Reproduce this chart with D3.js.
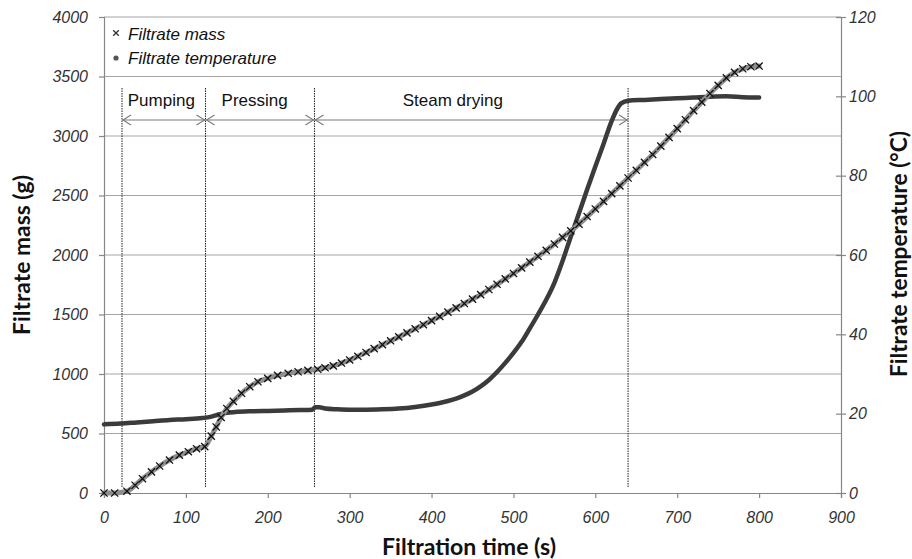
<!DOCTYPE html>
<html><head><meta charset="utf-8">
<script src="https://cdn.jsdelivr.net/npm/d3@7"></script>
<style>body{margin:0;background:#fff}svg{display:block}</style>
</head><body>
<svg id="chart" width="912" height="559"></svg>
<script>
// ---- data ----
const massTime = [0,13,28,38,47,58,68,80,92,103,113,123,131,137,143,150,158,168,178,188,200,212,225,237,249,261,270,
  280,290,300,310,320,330,340,350,360,370,380,390,400,410,420,430,440,450,460,470,480,490,500,510,520,530,540,550,
  560,570,580,590,600,610,620,630,640,650,660,670,680,690,700,710,720,730,740,750,760,770,780,790,800];
const massValues = [0,0,15,65,120,178,227,277,318,347,372,390,478,555,635,710,770,838,893,935,963,988,1006,1019,1030,1040,1052,
  1068,1092,1118,1149,1181,1213,1246,1279,1312,1346,1380,1414,1449,1484,1520,1556,1592,1629,1667,1710,1754,1799,1845,1892,
  1940,1989,2039,2092,2148,2203,2259,2323,2387,2451,2516,2581,2647,2712,2778,2845,2915,2988,3062,3137,3213,3285,3357,3425,
  3488,3535,3565,3582,3588];
const tempTime = [0,20,40,60,80,100,120,130,140,150,160,180,200,220,240,254,258,263,270,285,300,320,340,360,380,400,410,420,
  430,440,450,460,470,480,490,500,510,520,530,540,550,560,570,580,590,600,610,620,626,632,640,660,680,700,720,740,760,780,800];
const tempValues = [17.3,17.5,17.8,18.1,18.4,18.6,18.9,19.2,19.8,20.2,20.4,20.6,20.7,20.8,20.9,21.0,21.6,21.6,21.3,21.1,21.0,
  21.0,21.1,21.3,21.7,22.3,22.7,23.2,23.8,24.6,25.6,26.9,28.5,30.5,32.8,35.3,38.1,41.5,45.0,48.7,53.0,58.5,64.6,70.5,76.5,
  82.3,88.0,93.8,96.6,98.3,98.9,99.1,99.3,99.5,99.7,99.9,100.0,99.8,99.7];
const xTicks = [0,100,200,300,400,500,600,700,800,900];
const massTicks = [0,500,1000,1500,2000,2500,3000,3500,4000];
const tempTicks = [0,20,40,60,80,100,120];
const phaseBounds = [22,124,257,640];
const phaseLabels = ["Pumping","Pressing","Steam drying"];
const legendLabels = ["Filtrate mass","Filtrate temperature"];
const axisTitles = ["Filtration time (s)","Filtrate mass (g)","Filtrate temperature (°C)"];

// ---- layout ----
const L = 104, R = 841, T = 17, B = 493;
const phaseLabelAt = [70,184,426];
const svg = d3.select("#chart");
const x = d3.scaleLinear().domain([0,900]).range([L,R]);
const yM = d3.scaleLinear().domain([0,4000]).range([B,T]);
const yT = d3.scaleLinear().domain([0,120]).range([B,T]);
const tickFont = "'Liberation Sans', Arial, sans-serif";
const axisCol = "#868686";

// gridlines
svg.append("g").selectAll("line").data(massTicks.filter(d=>d>0)).join("line")
  .attr("x1",L).attr("x2",R).attr("y1",d=>yM(d)).attr("y2",d=>yM(d))
  .attr("stroke","#a6a6a6").attr("stroke-width",1.2);

function styleAxis(g){
  g.select(".domain").attr("stroke",axisCol).attr("stroke-width",1.2);
  g.selectAll(".tick line").attr("stroke",axisCol).attr("stroke-width",1.2);
  g.selectAll(".tick text").attr("fill","#333").style("font-family",tickFont)
    .style("font-size","16px").style("font-style","italic");
}
svg.append("g").attr("transform",`translate(0,${B})`)
  .call(d3.axisBottom(x).tickValues(xTicks).tickSize(5).tickPadding(14).tickFormat(d3.format("d")))
  .call(styleAxis);
svg.append("g").attr("transform",`translate(${L},0)`)
  .call(d3.axisLeft(yM).tickValues(massTicks).tickSize(5).tickPadding(11).tickFormat(d3.format("d")))
  .call(styleAxis);
const gr = svg.append("g").attr("transform",`translate(${R},0)`)
  .call(d3.axisRight(yT).tickValues(tempTicks).tickSize(5).tickPadding(3).tickFormat(d3.format("d")))
  .call(styleAxis);
gr.selectAll(".tick line").attr("x1",-5);

// phase dotted lines
svg.append("g").selectAll("line").data(phaseBounds).join("line")
  .attr("x1",d=>x(d)).attr("x2",d=>x(d)).attr("y1",88).attr("y2",488)
  .attr("stroke","#222").attr("stroke-width",1).attr("stroke-dasharray","1.5,1");

// arrows
const ay = 120;
const ag = svg.append("g").attr("stroke","#7a7a7a").attr("fill","none").attr("stroke-width",1.1);
phaseLabels.forEach((lab,i)=>{
  const x1 = x(phaseBounds[i]), x2 = x(phaseBounds[i+1]);
  ag.append("line").attr("x1",x1).attr("x2",x2).attr("y1",ay).attr("y2",ay);
  ag.append("path").attr("d",`M${x1+9},${ay-5}L${x1+1},${ay}L${x1+9},${ay+5}`);
  ag.append("path").attr("d",`M${x2-9},${ay-5}L${x2-1},${ay}L${x2-9},${ay+5}`);
  svg.append("text").attr("x",x(phaseLabelAt[i])).attr("y",106).attr("text-anchor","middle")
    .style("font-family",tickFont).style("font-size","17px").attr("fill","#111").text(lab);
});

// temperature line
svg.append("path").datum(tempTime.map((t,i)=>[t,tempValues[i]]))
  .attr("d",d3.line().x(d=>x(d[0])).y(d=>yT(d[1])).curve(d3.curveMonotoneX))
  .attr("fill","none").attr("stroke","#3b3b3b").attr("stroke-width",4.5)
  .attr("stroke-linejoin","round").attr("stroke-linecap","round");

// mass line + markers
const massData = massTime.map((t,i)=>[t,massValues[i]]);
svg.append("path").datum(massData)
  .attr("d",d3.line().x(d=>x(d[0])).y(d=>yM(d[1])).curve(d3.curveMonotoneX))
  .attr("fill","none").attr("stroke","#8f8f8f").attr("stroke-width",5)
  .attr("stroke-linejoin","round").attr("stroke-linecap","round");
const cross = "M-3.6,-3.6L3.6,3.6M-3.6,3.6L3.6,-3.6";
svg.append("g").selectAll("path").data(massData).join("path")
  .attr("transform",d=>`translate(${x(d[0])},${yM(d[1])})`).attr("d",cross)
  .attr("stroke","#111").attr("stroke-width",1.3).attr("fill","none");

// legend
svg.append("path").attr("transform","translate(116,33)").attr("d","M-2.8,-2.8L2.8,2.8M-2.8,2.8L2.8,-2.8")
  .attr("stroke","#333").attr("stroke-width",1.3);
svg.append("circle").attr("cx",116).attr("cy",58).attr("r",2.6).attr("fill","#555");
legendLabels.forEach((lab,i)=>{
  svg.append("text").attr("x",128).attr("y",39.5+i*24.5)
    .style("font-family",tickFont).style("font-size","17px").style("font-style","italic")
    .attr("fill","#111").text(lab);
});

// axis titles, fitted to target widths
function fit(sel, w){
  let fs = 22; sel.style("font-size",fs+"px");
  const len = sel.node().getComputedTextLength();
  sel.style("font-size",(fs*w/len).toFixed(2)+"px");
}
const titleFont = "Lato, 'Open Sans', sans-serif";
const t0 = svg.append("text").attr("x",469).attr("y",555).attr("text-anchor","middle")
  .style("font-family",titleFont).style("font-weight","bold").attr("fill","#111").text(axisTitles[0]);
fit(t0,174);
const t1 = svg.append("text").attr("transform","translate(30,255) rotate(-90)").attr("text-anchor","middle")
  .style("font-family",titleFont).style("font-weight","bold").attr("fill","#111").text(axisTitles[1]);
fit(t1,160);
const t2 = svg.append("text").attr("transform","translate(907,254) rotate(-90)").attr("text-anchor","middle")
  .style("font-family",titleFont).style("font-weight","bold").attr("fill","#111").text(axisTitles[2]);
fit(t2,246);
</script>
</body></html>
